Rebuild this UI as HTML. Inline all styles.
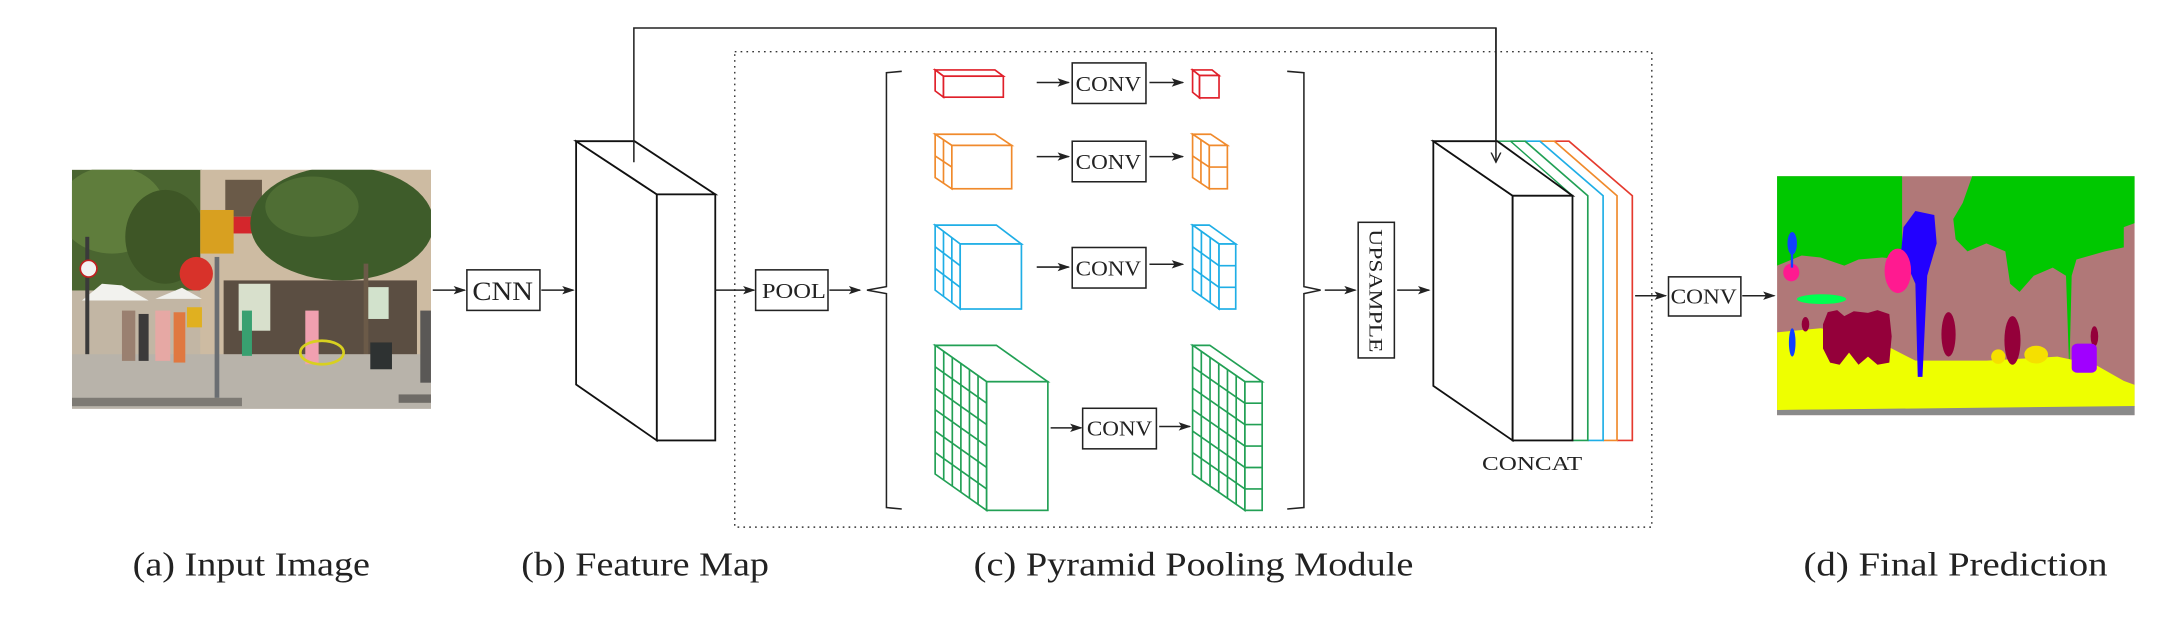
<!DOCTYPE html>
<html><head><meta charset="utf-8"><style>
html,body{margin:0;padding:0;background:#fff;}
svg{display:block;}
text{font-family:"Liberation Serif",serif;fill:#222;}
</style></head><body>
<svg width="2182" height="632" viewBox="0 0 1568 452" preserveAspectRatio="none" xmlns="http://www.w3.org/2000/svg">
<defs>
<marker id="ah" markerWidth="9" markerHeight="7" refX="8" refY="3.5" orient="auto" markerUnits="userSpaceOnUse">
<path d="M0,0.5 L9,3.5 L0,6.5 L2,3.5 z" fill="#222"/>
</marker>
<marker id="av" markerWidth="8" markerHeight="8" refX="7" refY="4" orient="auto" markerUnits="userSpaceOnUse">
<path d="M0,0.5 L7,4 L0,7.5" fill="none" stroke="#222" stroke-width="1"/>
</marker>
</defs>
<rect width="1568" height="452" fill="#fff"/>

<!-- Input photo -->
<svg x="51.7" y="121.4" width="258" height="171" viewBox="0 0 1077 713" preserveAspectRatio="none">
<rect width="1077" height="713" fill="#c2b6a4"/>
<rect x="0" y="0" width="390" height="360" fill="#4a6530"/>
<ellipse cx="120" cy="120" rx="160" ry="130" fill="#5f7d3c"/>
<ellipse cx="280" cy="200" rx="120" ry="140" fill="#3e5626"/>
<rect x="385" y="0" width="692" height="560" fill="#cdbba2"/>
<rect x="460" y="30" width="110" height="110" fill="#6a5a48"/>
<rect x="460" y="140" width="150" height="50" fill="#d4262c"/>
<rect x="455" y="330" width="580" height="225" fill="#5b4e42"/>
<rect x="500" y="340" width="95" height="140" fill="#d8e0cc"/>
<rect x="885" y="350" width="65" height="95" fill="#d2e2cc"/>
<rect x="640" y="250" width="90" height="35" fill="#d02a30"/>
<ellipse cx="810" cy="160" rx="275" ry="170" fill="#3e5c2a"/>
<ellipse cx="720" cy="110" rx="140" ry="90" fill="#4f6e34"/>
<rect x="875" y="280" width="14" height="365" fill="#6b5a48"/>
<rect x="0" y="550" width="1077" height="163" fill="#b8b3aa"/>
<rect x="0" y="680" width="510" height="25" fill="#7d7a74"/>
<rect x="980" y="670" width="97" height="25" fill="#6e6b66"/>
<path d="M30,390 L90,340 L150,345 L230,390 Z" fill="#f2f2ee"/>
<path d="M250,385 L330,352 L390,385 Z" fill="#f0f0ec"/>
<rect x="40" y="200" width="12" height="350" fill="#3a3a3a"/>
<circle cx="50" cy="295" r="25" fill="#f2f2f2" stroke="#c02020" stroke-width="5"/>
<rect x="428" y="260" width="14" height="420" fill="#6a6e72"/>
<circle cx="373" cy="310" r="50" fill="#d8322a"/>
<rect x="385" y="120" width="100" height="130" fill="#d8a020"/>
<rect x="150" y="420" width="40" height="150" fill="#9a8070"/>
<rect x="200" y="430" width="30" height="140" fill="#3c3a3a"/>
<rect x="250" y="420" width="45" height="150" fill="#e6a8a4"/>
<rect x="305" y="425" width="35" height="150" fill="#e07840"/>
<rect x="345" y="410" width="45" height="60" fill="#e0b020"/>
<rect x="510" y="420" width="30" height="135" fill="#38a070"/>
<rect x="700" y="420" width="40" height="160" fill="#f0a0b0"/>
<ellipse cx="750" cy="545" rx="65" ry="35" fill="none" stroke="#d8d020" stroke-width="8"/>
<rect x="895" y="515" width="65" height="80" fill="#2e3232"/>
<rect x="1045" y="420" width="32" height="215" fill="#5a5856"/>
</svg>

<!-- arrows and CNN -->
<g stroke="#222" stroke-width="1.1" fill="none">
<line x1="311" y1="207.5" x2="334" y2="207.5" marker-end="url(#ah)"/>
<rect x="335.5" y="193" width="52.5" height="29" fill="#fff"/>
<line x1="389" y1="207.5" x2="412" y2="207.5" marker-end="url(#ah)"/>
</g>
<text x="339.5" y="214.5" font-size="19" textLength="43.5" lengthAdjust="spacingAndGlyphs">CNN</text>

<!-- feature map -->
<g stroke="#111" stroke-width="1.3" fill="#fff" stroke-linejoin="miter">
<polygon points="414,101 472,139 472,315 414,275"/>
<polygon points="414,101 456,101 514,139 472,139"/>
<rect x="472" y="139" width="42" height="176"/>
</g>
<!-- skip connection -->
<polyline points="455.5,116 455.5,20 1075,20 1075,116" fill="none" stroke="#222" stroke-width="1.1" marker-end="url(#av)"/>

<!-- dotted module box -->
<rect x="528" y="37" width="659" height="340" fill="none" stroke="#333" stroke-width="1" stroke-dasharray="1.2 3"/>

<!-- POOL -->
<g stroke="#222" stroke-width="1.1" fill="none">
<line x1="514" y1="207.5" x2="542" y2="207.5" marker-end="url(#ah)"/>
<rect x="543" y="193" width="52" height="29" fill="#fff"/>
<line x1="596" y1="207.5" x2="618" y2="207.5" marker-end="url(#ah)"/>
<polyline points="648,51 637,52 637,205 623,207.5 637,210 637,363 648,364"/>
<polyline points="925,51 937,52 937,205 949,207.5 937,210 937,363 925,364"/>
<line x1="952" y1="207.5" x2="974" y2="207.5" marker-end="url(#ah)"/>
<rect x="976" y="159" width="26" height="97" fill="#fff"/>
<line x1="1004" y1="207.5" x2="1027" y2="207.5" marker-end="url(#ah)"/>
<!-- row arrows -->
<line x1="745" y1="59" x2="768" y2="59" marker-end="url(#ah)"/>
<line x1="826" y1="59" x2="850" y2="59" marker-end="url(#ah)"/>
<line x1="745" y1="112" x2="768" y2="112" marker-end="url(#ah)"/>
<line x1="826" y1="112" x2="850" y2="112" marker-end="url(#ah)"/>
<line x1="745" y1="191" x2="768" y2="191" marker-end="url(#ah)"/>
<line x1="826" y1="189" x2="850" y2="189" marker-end="url(#ah)"/>
<line x1="755" y1="306" x2="777" y2="306" marker-end="url(#ah)"/>
<line x1="833" y1="305" x2="855" y2="305" marker-end="url(#ah)"/>
<rect x="770.5" y="45" width="53" height="29" fill="#fff"/>
<rect x="770.5" y="101" width="53" height="29" fill="#fff"/>
<rect x="770.5" y="177" width="53" height="29" fill="#fff"/>
<rect x="778" y="292" width="53" height="29" fill="#fff"/>
</g>
<text x="773" y="65" font-size="15" textLength="47" lengthAdjust="spacingAndGlyphs">CONV</text>
<text x="773" y="121" font-size="15" textLength="47" lengthAdjust="spacingAndGlyphs">CONV</text>
<text x="773" y="197" font-size="15" textLength="47" lengthAdjust="spacingAndGlyphs">CONV</text>
<text x="781" y="311.5" font-size="15" textLength="47" lengthAdjust="spacingAndGlyphs">CONV</text>
<text x="547.5" y="213" font-size="15" textLength="46" lengthAdjust="spacingAndGlyphs">POOL</text>
<text transform="translate(984,164) rotate(90)" font-size="14" textLength="88" lengthAdjust="spacingAndGlyphs">UPSAMPLE</text>

<g id="cubes" fill="#fff" stroke-width="1.2" stroke-linejoin="miter"></g>

<!-- concat -->
<g fill="none" stroke-width="1.2">
<polyline points="1117,101 1127.5,101 1173,140 1173,315 1162,315" stroke="#e53a2e"/>
<polyline points="1106.6,101 1117,101 1162,140 1162,315 1152,315" stroke="#f08a2c"/>
<polyline points="1096,101 1106.6,101 1152,140 1152,315 1141,315" stroke="#1faee6"/>
<polyline points="1085.5,101 1096,101 1141,140 1141,315 1130,315" stroke="#22a055"/>
<polyline points="1076,101 1085.5,101 1130,140" stroke="#1a9e50" stroke-width="1"/>
</g>
<g stroke="#111" stroke-width="1.3" fill="#fff">
<polygon points="1030,101 1087,140 1087,315 1030,276"/>
<polygon points="1030,101 1076,101 1130,140 1087,140"/>
<rect x="1087" y="140" width="43" height="175"/>
</g>
<line x1="1075" y1="20" x2="1075" y2="116" stroke="#222" stroke-width="1.1" marker-end="url(#av)"/>
<text x="1065" y="336" font-size="14" textLength="72" lengthAdjust="spacingAndGlyphs">CONCAT</text>

<!-- final conv -->
<g stroke="#222" stroke-width="1.1" fill="none">
<line x1="1175" y1="211.5" x2="1197" y2="211.5" marker-end="url(#ah)"/>
<rect x="1199" y="198" width="52" height="28" fill="#fff"/>
<line x1="1252" y1="211.5" x2="1275" y2="211.5" marker-end="url(#ah)"/>
</g>
<text x="1200.5" y="217" font-size="15" textLength="47.5" lengthAdjust="spacingAndGlyphs">CONV</text>

<!-- prediction -->
<svg x="1277" y="126" width="257" height="171" viewBox="708 434 755 591" preserveAspectRatio="none">
<rect x="708" y="434" width="755" height="591" fill="#b07878"/>
<path d="M708,434 L972,434 L972,640 L930,635 L880,640 L850,655 L800,635 L760,630 L708,655 Z" fill="#00c800"/>
<path d="M1120,434 L1463,434 L1463,550 L1440,560 L1440,610 L1400,620 L1340,640 L1330,680 L1325,920 L1318,680 L1290,660 L1250,680 L1220,720 L1200,700 L1190,620 L1150,600 L1110,620 L1085,590 L1080,540 L1100,500 Z" fill="#00c800"/>
<path d="M708,820 L800,810 L900,830 L950,860 L1000,890 L1150,890 L1300,880 L1380,900 L1440,940 L1463,950 L1463,1005 L708,1012 Z" fill="#eeff00"/>
<path d="M708,1012 L1463,1002 L1463,1025 L708,1025 Z" fill="#8a8a8a"/>
<path d="M805,800 L815,770 L835,765 L850,780 L870,768 L900,772 L920,765 L945,775 L950,830 L945,895 L920,900 L900,880 L880,900 L860,870 L840,900 L820,895 L805,860 Z" fill="#94003a"/>
<ellipse cx="768" cy="800" rx="8" ry="18" fill="#94003a"/>
<path d="M975,560 L1000,520 L1040,530 L1045,600 L1025,680 L1015,930 L1005,930 L1000,700 L970,620 Z" fill="#2200ff"/>
<ellipse cx="963" cy="668" rx="28" ry="55" fill="#ff1a90"/>
<ellipse cx="738" cy="672" rx="17" ry="22" fill="#ff1a90"/>
<ellipse cx="740" cy="600" rx="10" ry="28" fill="#1040ff"/>
<rect x="737" y="620" width="5" height="40" fill="#1040ff"/>
<ellipse cx="740" cy="845" rx="7" ry="35" fill="#1040ff"/>
<ellipse cx="802" cy="738" rx="52" ry="12" fill="#00ff50"/>
<ellipse cx="1070" cy="825" rx="15" ry="55" fill="#94003a"/>
<ellipse cx="1205" cy="840" rx="17" ry="60" fill="#94003a"/>
<ellipse cx="1255" cy="875" rx="25" ry="22" fill="#f5e000"/>
<ellipse cx="1175" cy="880" rx="15" ry="18" fill="#f5e000"/>
<ellipse cx="1378" cy="830" rx="8" ry="25" fill="#94003a"/>
<rect x="1330" y="848" width="53" height="72" rx="12" fill="#a000ff"/>
</svg>

<!-- captions -->
<text x="95.3" y="411.5" font-size="24" textLength="170.6" lengthAdjust="spacingAndGlyphs">(a) Input Image</text>
<text x="374.6" y="411.5" font-size="24" textLength="178" lengthAdjust="spacingAndGlyphs">(b) Feature Map</text>
<text x="699.7" y="411.5" font-size="24" textLength="316" lengthAdjust="spacingAndGlyphs">(c) Pyramid Pooling Module</text>
<text x="1296" y="411.5" font-size="24" textLength="218.5" lengthAdjust="spacingAndGlyphs">(d) Final Prediction</text>
</svg>
<script>
(function(){
var g=document.getElementById('cubes'),NS='http://www.w3.org/2000/svg';
function el(t,a){var e=document.createElementNS(NS,t);for(var k in a)e.setAttribute(k,a[k]);g.appendChild(e);return e;}
function cube(bx,by,fx,fy,fw,fh,n,c,frontGrid){
 var dx=fx-bx,dy=fy-by;
 el('polygon',{points:[bx,by,bx+fw,by,fx+fw,fy,fx,fy].join(','),stroke:c});
 el('polygon',{points:[bx,by,fx,fy,fx,fy+fh,bx,by+fh].join(','),stroke:c});
 el('rect',{x:fx,y:fy,width:fw,height:fh,stroke:c});
 for(var i=1;i<n;i++){var t=i/n;
  el('line',{x1:bx+t*dx,y1:by+t*dy,x2:bx+t*dx,y2:by+t*dy+fh,stroke:c});
  el('line',{x1:bx,y1:by+t*fh,x2:fx,y2:fy+t*fh,stroke:c});
  if(frontGrid) el('line',{x1:fx,y1:fy+t*fh,x2:fx+fw,y2:fy+t*fh,stroke:c});
 }
}
cube(672,50,678,54.5,43,15,1,'#e0202a');
cube(672,96,684,104,43,31,2,'#f08a2c');
cube(672,161,690,174.5,44,46.5,3,'#1faee6');
cube(672,247,709,273,44,92,6,'#22a055');
cube(857,50,862,54,14,16,1,'#e0202a');
cube(857,96,869,104,13,31,2,'#f08a2c',true);
cube(857,161,876,174.5,12,46.5,3,'#1faee6',true);
cube(857,247,894.6,273,12.4,92,6,'#22a055',true);
})();
</script>
</body></html>
